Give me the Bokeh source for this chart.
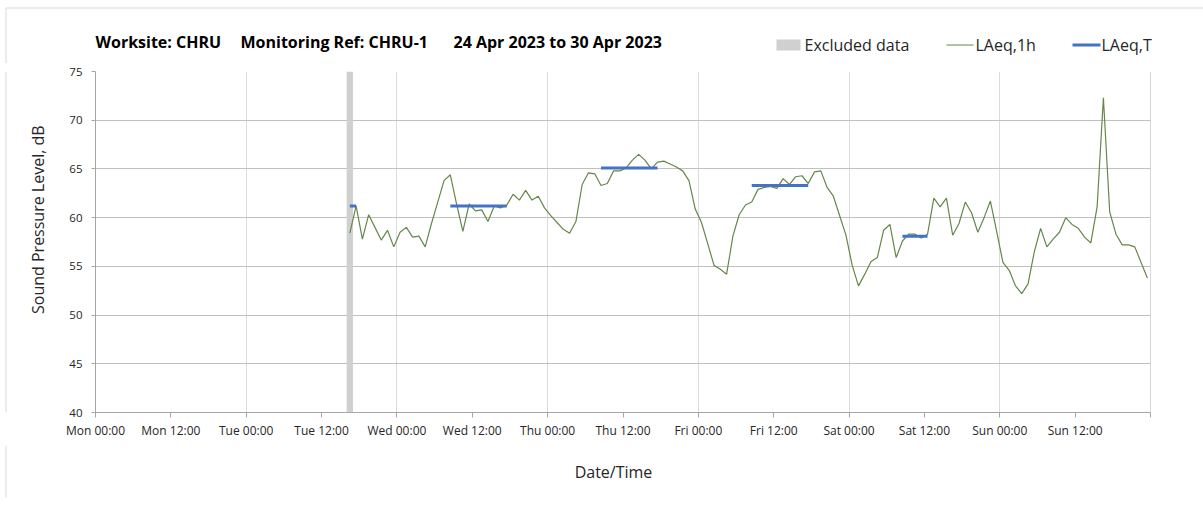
import pandas as pd
from math import pi
from bokeh.plotting import figure
from bokeh.layouts import column, row
from bokeh.models import Range1d, FixedTicker, Span
from bokeh.core.properties import value
from bokeh.embed import file_html
from bokeh.resources import INLINE

# ---------------- data ----------------
week_start = "2023-04-24 00:00"          # Monday
first_hour_mid = "2023-04-25 16:30"      # first hourly LAeq (mid-hour)

laeq_1h = [
    58.4, 61.2, 57.8, 60.3, 59.0, 57.7, 58.7, 57.0, 58.5, 59.0, 58.0, 58.1,
    57.0, 59.4, 61.6, 63.8, 64.4, 61.4, 58.6, 61.4, 60.7, 60.8, 59.6, 61.2,
    61.0, 61.3, 62.4, 61.8, 62.8, 61.8, 62.2, 61.0, 60.2, 59.5, 58.8, 58.4,
    59.6, 63.4, 64.6, 64.5, 63.3, 63.5, 64.8, 64.8, 65.1, 65.9, 66.5, 65.9,
    65.0, 65.7, 65.8, 65.5, 65.2, 64.8, 63.8, 60.9, 59.5, 57.3, 55.1, 54.7,
    54.2, 58.1, 60.3, 61.3, 61.6, 62.9, 63.1, 63.2, 63.0, 64.0, 63.4, 64.2,
    64.3, 63.5, 64.7, 64.8, 63.1, 62.2, 60.2, 58.2, 55.1, 53.0, 54.2, 55.5,
    55.9, 58.7, 59.3, 55.9, 57.6, 58.3, 58.3, 57.9, 58.3, 62.0, 61.1, 62.0,
    58.2, 59.4, 61.6, 60.5, 58.5, 60.0, 61.7, 58.6, 55.4, 54.6, 53.0, 52.2,
    53.2, 56.5, 58.9, 57.0, 57.8, 58.5, 60.0, 59.3, 58.9, 58.0, 57.4, 61.1,
    72.3, 60.6, 58.3, 57.2, 57.2, 57.0, 55.4, 53.8,
]

laeq_t_start = ["2023-04-25 16:30", "2023-04-26 08:30", "2023-04-27 08:30",
                "2023-04-28 08:30", "2023-04-29 08:30"]
laeq_t_end = ["2023-04-25 17:30", "2023-04-26 17:30", "2023-04-27 17:30",
              "2023-04-28 17:30", "2023-04-29 12:30"]
laeq_t_value = [61.2, 61.2, 65.1, 63.3, 58.1]

excluded_start = ["2023-04-25 16:00"]
excluded_end = ["2023-04-25 17:00"]

tick_labels = ["Mon 00:00", "Mon 12:00", "Tue 00:00", "Tue 12:00", "Wed 00:00",
               "Wed 12:00", "Thu 00:00", "Thu 12:00", "Fri 00:00", "Fri 12:00",
               "Sat 00:00", "Sat 12:00", "Sun 00:00", "Sun 12:00", ""]
y_ticks = [40, 45, 50, 55, 60, 65, 70, 75]

title_parts = ["Worksite: CHRU", "Monitoring Ref: CHRU-1", "24 Apr 2023 to 30 Apr 2023"]
legend_labels = ["Excluded data", "LAeq,1h", "LAeq,T"]
y_title = "Sound Pressure Level, dB"
x_title = "Date/Time"

# ---------------- helpers ----------------
t0 = pd.Timestamp(week_start)
HR = pd.Timedelta(hours=1)


def hours(ts):
    return [(pd.Timestamp(t) - t0) / HR for t in ts]


x_1h = list((pd.date_range(first_hour_mid, periods=len(laeq_1h), freq="h") - t0) / HR)
x_t0 = hours(laeq_t_start)
x_t1 = hours(laeq_t_end)
x_ex0 = hours(excluded_start)
x_ex1 = hours(excluded_end)

FONT = "Open Sans"
TXT = "#262626"
GREEN = "#66874a"
BLUE = "#4472C4"
GREY = "#d0d0d0"
BORDER = "#d9d9d9"

PAGE_W, PAGE_H = 1203, 507
HEAD_H, FOOT_H, LEFT_W = 63, 62, 50
MID_H = PAGE_H - HEAD_H - FOOT_H
BX, BY, BB = 5.5, 7.5, 497   # outer chart border (left, top, bottom), page px


def blank(w, h, y_top, y_bot):
    f = figure(width=w, height=h, output_backend="svg", toolbar_location=None,
               x_range=Range1d(0, w), y_range=Range1d(y_bot, y_top),
               x_axis_type=None, y_axis_type=None, min_border=0)
    f.outline_line_color = None
    f.background_fill_color = "white"
    f.border_fill_color = "white"
    return f


# ---------------- main plot ----------------
# frame placement (page px): left 95, right 1150, top 71, bottom 412
p = figure(width=PAGE_W - LEFT_W, height=MID_H, output_backend="svg",
           toolbar_location=None,
           x_range=Range1d(0, 168), y_range=Range1d(y_ticks[0], y_ticks[-1]),
           min_border_left=95 - LEFT_W, min_border_right=PAGE_W - 1150,
           min_border_top=71 - HEAD_H, min_border_bottom=HEAD_H + MID_H - 412)
p.outline_line_color = None
p.background_fill_color = "white"
p.border_fill_color = "white"

xt = [12 * i for i in range(len(tick_labels))]
p.xaxis.ticker = FixedTicker(ticks=xt)
p.xaxis.major_label_overrides = {t: lab for t, lab in zip(xt, tick_labels)}
p.yaxis.ticker = FixedTicker(ticks=y_ticks)
for ax in (p.xaxis[0], p.yaxis[0]):
    ax.axis_line_color = "#a6a6a6"
    ax.major_tick_line_color = "#a6a6a6"
    ax.minor_tick_line_color = None
    ax.major_tick_in = 0
    ax.major_label_text_font = FONT
    ax.major_label_text_color = TXT
p.xaxis.major_tick_out = 5
p.xaxis.major_label_standoff = 4
p.xaxis.major_label_text_font_size = "12px"
p.yaxis.major_tick_out = 4
p.yaxis.major_label_standoff = 9
p.yaxis.major_label_text_font_size = "11.5px"

p.xgrid.ticker = FixedTicker(ticks=[24 * i for i in range(7)])
p.xgrid.grid_line_color = "#dcdcdc"
p.ygrid.ticker = FixedTicker(ticks=y_ticks)
p.ygrid.grid_line_color = "#c0c0c0"
p.add_layout(Span(location=xt[-1], dimension="height", line_color="#b0b0b0",
                  line_width=1))

p.quad(left=x_ex0, right=x_ex1, bottom=y_ticks[0], top=y_ticks[-1],
       fill_color=GREY, line_color=None)
p.line(x_1h, laeq_1h, line_color=GREEN, line_width=1.2)
p.segment(x0=x_t0, y0=laeq_t_value, x1=x_t1, y1=laeq_t_value,
          line_color=BLUE, line_width=3)

# ---------------- header: title + legend ----------------
head = blank(PAGE_W, HEAD_H, 0, HEAD_H)
head.segment(x0=[BX, BX], y0=[BY, BY], x1=[PAGE_W, BX], y1=[BY, HEAD_H],
             line_color=BORDER, line_width=1)
head.text(x=[95, 240, 453], y=[41, 41, 41], text=title_parts,
          text_font=value(FONT), text_font_size=value("16px"),
          text_font_style="bold", text_color="black",
          text_baseline="middle", text_align="left")

# legend swatches and labels
head.quad(left=[776], right=[800], top=[39], bottom=[50],
          fill_color=GREY, line_color=None)
head.segment(x0=[946], y0=[44.5], x1=[973], y1=[44.5], line_color=GREEN,
             line_width=1.2)
head.segment(x0=[1072], y0=[44.5], x1=[1100], y1=[44.5], line_color=BLUE,
             line_width=3)
head.text(x=[804, 975, 1101], y=[44, 44, 44], text=legend_labels,
          text_font=value(FONT), text_font_size=value("16px"),
          text_color=TXT, text_baseline="middle", text_align="left")

# ---------------- left: y title ----------------
left = blank(LEFT_W, MID_H, HEAD_H, HEAD_H + MID_H)
left.segment(x0=[BX], y0=[HEAD_H], x1=[BX], y1=[HEAD_H + MID_H],
             line_color=BORDER, line_width=1)
left.text(x=[37], y=[229], text=[y_title], angle=pi / 2,
          text_font=value(FONT), text_font_size=value("16px"),
          text_color=TXT, text_align="center", text_baseline="middle")

# ---------------- footer: x title ----------------
foot = blank(PAGE_W, FOOT_H, HEAD_H + MID_H, PAGE_H)
foot.segment(x0=[BX], y0=[HEAD_H + MID_H], x1=[BX], y1=[BB],
             line_color=BORDER, line_width=1)
foot.text(x=[613], y=[471], text=[x_title],
          text_font=value(FONT), text_font_size=value("16px"),
          text_color=TXT, text_align="center", text_baseline="middle")

layout = column(head, row(left, p), foot)
open("out.html", "w").write(file_html(layout, INLINE))
